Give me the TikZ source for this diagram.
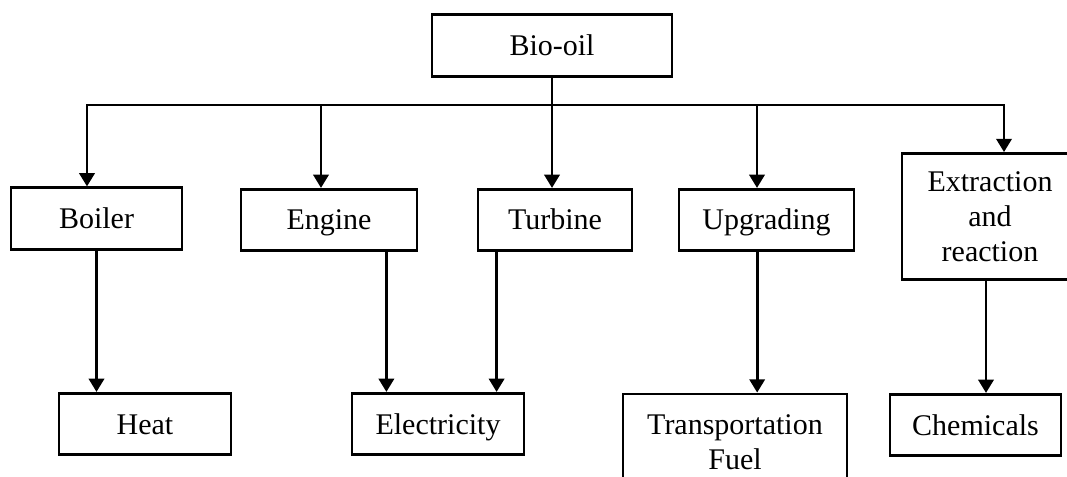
\documentclass[tikz,border=0pt]{standalone}
\usepackage{fontspec}
\setmainfont{Liberation Serif}
\usetikzlibrary{arrows.meta}

\begin{document}
\begin{tikzpicture}[x=0.75pt,y=-0.75pt,
	box/.style={draw,line width=2.1pt,minimum height=46pt,inner sep=2pt,align=center,font=\fontsize{22.5pt}{26.25pt}\selectfont},
	sgl/.style={box,text height=15pt,text depth=0pt},
	arr/.style={line width=2.1pt,-{Triangle[length=10pt,width=11.5pt]}}]
	\useasboundingbox (0,0) rectangle (1067,477);
	\clip (0,0) rectangle (1067,477);
	\node[sgl,minimum width=180pt] (bio) at (552,45.5){Bio-oil};
	\node[sgl,minimum width=128.25pt] (boil) at (96.5,218.5){Boiler};
	\node[sgl,minimum width=132pt] (eng) at (329,220){Engine};
	\node[sgl,minimum width=115.5pt] (turb) at (555,220){Turbine};
	\node[sgl,minimum width=131.25pt] (upg) at (766.5,220){Upgrading};
	\node[box,minimum width=132pt,minimum height=94.5pt] (ext) at (990,216.5){Extraction\\and\\reaction};
	\node[sgl,minimum width=129pt] (heat) at (145,424){Heat};
	\node[sgl,minimum width=129pt] (elec) at (438,424){Electricity};
	\node[box,minimum width=168pt,minimum height=72pt] (trans) at (735,442){Transportation\\Fuel};
	\node[sgl,minimum width=128.25pt] (chem) at (975.5,425){Chemicals};
	\coordinate (top) at (552,105);
	\coordinate (tb) at (87,105);
	\coordinate (te) at (321,105);
	\coordinate (tu) at (757,105);
	\coordinate (tx) at (1004,105);
	\coordinate (e1) at ([xshift=-24pt]eng.south east);
	\coordinate (e2) at ([xshift=15pt]turb.south west);
	\coordinate (u1) at ([xshift=-7pt]upg.south);
	\coordinate (x1) at ([xshift=-3pt]ext.south);
	\draw[arr] (bio.south) -- (bio.south |- turb.north);
	\draw[arr] (top) -| (tb |- boil.north);
	\draw[arr] (top) -| (tx |- ext.north);
	\draw[arr] (te) -- (te |- eng.north);
	\draw[arr] (tu) -- (tu |- upg.north);
	\draw[arr] (boil.south) -- (boil.south |- heat.north);
	\draw[arr] (e1) -- (e1 |- elec.north);
	\draw[arr] (e2) -- (e2 |- elec.north);
	\draw[arr] (u1) -- (u1 |- trans.north);
	\draw[arr] (x1) -- (x1 |- chem.north);
\end{tikzpicture}
\end{document}
